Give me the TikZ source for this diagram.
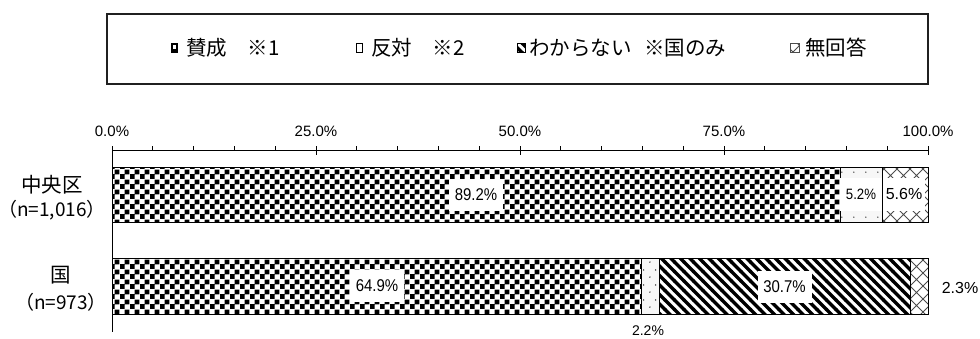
\documentclass[tikz,border=0pt]{standalone}
\usepackage{fontspec}
\setmainfont{Liberation Sans}
\newfontfamily\narrownum[FakeStretch=0.88]{Liberation Sans}
\newfontfamily\jp{Noto Sans CJK JP}
\usetikzlibrary{patterns}

\pgfdeclarepatternformonly{checkerXL}{\pgfpointorigin}{\pgfpoint{10pt}{10pt}}{\pgfpoint{10pt}{10pt}}{%
  \pgfpathrectangle{\pgfpointorigin}{\pgfpoint{5.2pt}{5.2pt}}%
  \pgfpathrectangle{\pgfpoint{5pt}{5pt}}{\pgfpoint{5.2pt}{5.2pt}}%
  \pgfusepath{fill}}
\pgfdeclarepatternformonly{sparsedots}{\pgfpointorigin}{\pgfpoint{12pt}{15pt}}{\pgfpoint{12pt}{15pt}}{%
  \pgfpathcircle{\pgfpoint{2pt}{2pt}}{0.75pt}%
  \pgfpathcircle{\pgfpoint{8pt}{9.5pt}}{0.75pt}%
  \pgfusepath{fill}}
\pgfdeclarepatternformonly{nwstripes}{\pgfpoint{-3pt}{-3pt}}{\pgfpoint{12.5pt}{12.5pt}}{\pgfpoint{9.5pt}{9.5pt}}{%
  \pgfsetlinewidth{3.3pt}%
  \pgfpathmoveto{\pgfpoint{-0.5pt}{10pt}}%
  \pgfpathlineto{\pgfpoint{10pt}{-0.5pt}}%
  \pgfusepath{stroke}}
\pgfdeclarepatternformonly{xhatch}{\pgfpoint{-1pt}{-1pt}}{\pgfpoint{14pt}{14pt}}{\pgfpoint{13pt}{13pt}}{%
  \pgfsetlinewidth{0.8pt}%
  \pgfpathmoveto{\pgfpoint{-0.2pt}{-0.2pt}}%
  \pgfpathlineto{\pgfpoint{13.2pt}{13.2pt}}%
  \pgfpathmoveto{\pgfpoint{-0.2pt}{13.2pt}}%
  \pgfpathlineto{\pgfpoint{13.2pt}{-0.2pt}}%
  \pgfusepath{stroke}}

\begin{document}
\begin{tikzpicture}[x=1pt,y=-1pt,
  num/.style={font=\fontsize{15}{18}\selectfont, inner sep=0pt},
  cat/.style={font=\jp\fontsize{19}{22}\selectfont, inner sep=0pt},
  leg/.style={font=\jp\fontsize{20.5}{24}\selectfont, anchor=west, inner sep=0pt},
  barlab/.style={fill=white, inner sep=0pt, font=\narrownum\fontsize{17}{20}\selectfont,
                 minimum width=54pt, minimum height=32pt},
  seg/.style={draw=black, line width=0.8pt},
  yes/.style={seg, pattern=checkerXL},
  no/.style={seg, preaction={fill=gray!6}, pattern=sparsedots},
  dk/.style={seg, pattern=nwstripes},
  na/.style={seg, pattern=xhatch, pattern color=gray!60!black}]
\useasboundingbox (0,0) rectangle (980,338);

% legend
\node[draw=gray!25!black, line width=1.3pt, minimum width=821pt, minimum height=70pt, inner sep=0pt]
  (legend) at (517.5,49) {};
\fill (171,43) rectangle (177.5,53);
\fill[white] (173,45) rectangle (175.5,48.8);
\node[leg] (lyes) at (186,48) {賛成\hspace{1em}※1};
\draw[line width=0.8pt, fill=white] (356.5,43.5) rectangle (362.5,52.5);
\node[leg] (lno) at (371,48) {反対\hspace{1em}※2};
\draw[line width=0.8pt, pattern=nwstripes] (517,43.5) rectangle (525.5,52.5);
\node[leg] (ldk) at (529,48) {わからない\hspace{0.6em}※国のみ};
\draw[line width=0.6pt, draw=gray!60!black, pattern=xhatch, pattern color=gray!60!black] (790,43.5) rectangle (799,52.5);
\node[leg] (lna) at (805,48) {無回答};

% axis
\draw[line width=0.9pt] (112,150.5) -- (928,150.5);
\draw[line width=0.9pt] (112,146) -- (112,332);
\foreach \k in {1,...,19} {
  \draw[line width=0.8pt] ({112+40.8*\k},146) -- ({112+40.8*\k},150.5);
}
\foreach \k/\t in {0/0.0\%,1/25.0\%,2/50.0\%,3/75.0\%,4/100.0\%} {
  \draw[line width=0.9pt] ({112+204*\k},146) -- ({112+204*\k},155);
  \node[num] (tick\k) at ({112+204*\k},131) {\t};
}

% bar 1: 中央区
\draw[yes] (112,167) rectangle (839.9,222);
\draw[no]  (839.9,167) rectangle (882.3,222);
\draw[na]  (882.3,167) rectangle (928,222);
% bar 2: 国
\draw[yes] (112,258) rectangle (641.6,314);
\draw[no]  (641.6,258) rectangle (659.5,314);
\draw[dk]  (659.5,258) rectangle (910,314);
\draw[na]  (910,258) rectangle (928,314);

% bar labels
\node[barlab] (v1) at (476,194.5) {89.2\%};
\node[barlab, minimum width=42pt, minimum height=33pt, font=\narrownum\fontsize{15}{18}\selectfont] (v2) at (861,194) {5.2\%};
\node[barlab, minimum width=42pt, minimum height=33pt, font=\fontsize{16}{19}\selectfont] (v3) at (904,194) {5.6\%};
\node[barlab] (v4) at (377,286) {64.9\%};
\node[barlab] (v5) at (784.5,287) {30.7\%};
\node[num, font=\fontsize{14}{17}\selectfont] (v6) at (648,331) {2.2\%};
\node[num, font=\fontsize{16}{19}\selectfont] (v7) at (960,288) {2.3\%};

% category labels
\node[cat, font=\jp\fontsize{20.5}{24}\selectfont] (c1a) at (52,185) {中央区};
\node[cat] (c1b) at (52,210) {（n=1,016）};
\node[cat, font=\jp\fontsize{20.5}{24}\selectfont] (c2a) at (61,275) {国};
\node[cat] (c2b) at (61,302) {（n=973）};
\end{tikzpicture}
\end{document}
